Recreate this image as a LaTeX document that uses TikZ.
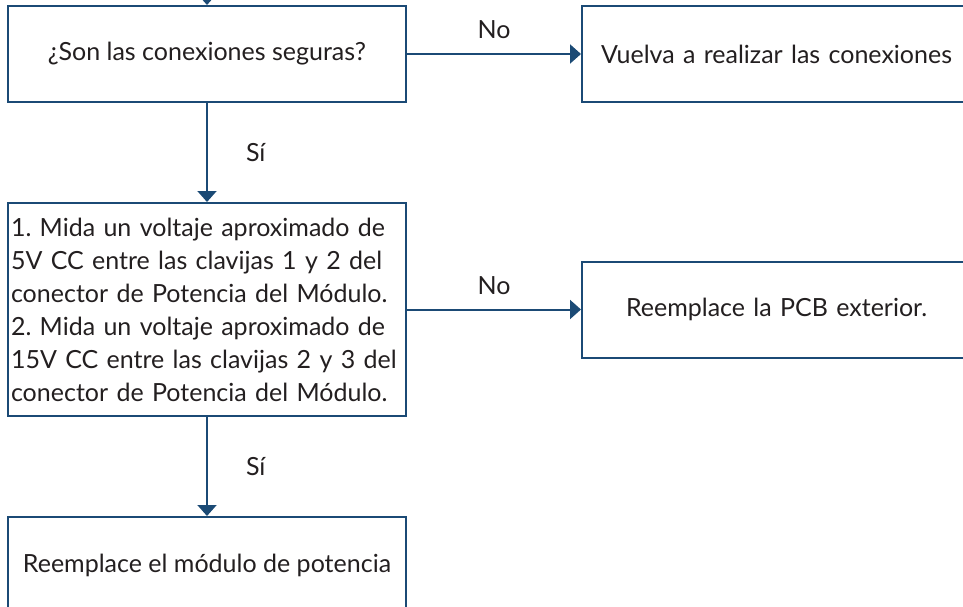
\documentclass[tikz,border=0pt]{standalone}
\usepackage{fontspec}
\setmainfont{Lato}
\definecolor{flow}{HTML}{1B4A75}
\definecolor{ink}{HTML}{231F20}
\usetikzlibrary{positioning,arrows.meta}

\begin{document}
\frenchspacing
\begin{tikzpicture}[
  x=1pt,y=-1pt,
  font=\fontsize{25}{33}\selectfont,text=ink,
  stepbox/.style={draw=flow,line width=2pt,fill=white,
    minimum width=398pt,minimum height=96pt,inner sep=2pt,align=center},
  outcome/.style={draw=flow,line width=2pt,fill=white,
    minimum height=96pt,inner ysep=4pt,align=left},
  flowline/.style={draw=flow,line width=2pt,-{Triangle[length=11pt,width=19pt]}},
  answer/.style={text=ink,inner sep=2pt}
]
\clip (0,0) rectangle (963,607);

% Main column
\node[stepbox] (check) at (207,54) {¿Son las conexiones seguras?};
\node[stepbox,minimum height=213pt,text width=392pt,inner xsep=3pt,align=left,below=99pt of check] (measure)
  {1. Mida un voltaje aproximado de\\
   5V CC entre las clavijas 1 y 2 del\\
   conector de Potencia del Módulo.\\
   2. Mida un voltaje aproximado de\\
   15V CC entre las clavijas 2 y 3 del\\
   conector de Potencia del Módulo.};
\node[stepbox,below=99pt of measure] (module) {Reemplace el módulo de potencia};

% Side outcomes
\node[outcome,text width=384pt,inner xsep=19pt,right=174pt of check] (redo)
  {Vuelva a realizar las conexiones};
\node[outcome,text width=334pt,inner xsep=44pt,right=174pt of measure] (pcb)
  {Reemplace la PCB exterior.};

% Connectors
\coordinate (entry) at (207,-12);
\draw[flowline] (entry) -- (check.north);
\draw[flowline] (check.east) -- node[answer,midway,above=12pt] {No} (redo.west);
\draw[flowline] (check.south) -- node[answer,midway,right=36pt] {Sí} (measure.north);
\draw[flowline] (measure.east) -- node[answer,midway,above=12pt] {No} (measure.east -| pcb.west);
\draw[flowline] (measure.south) -- node[answer,midway,right=36pt] {Sí} (module.north);

\end{tikzpicture}
\end{document}
